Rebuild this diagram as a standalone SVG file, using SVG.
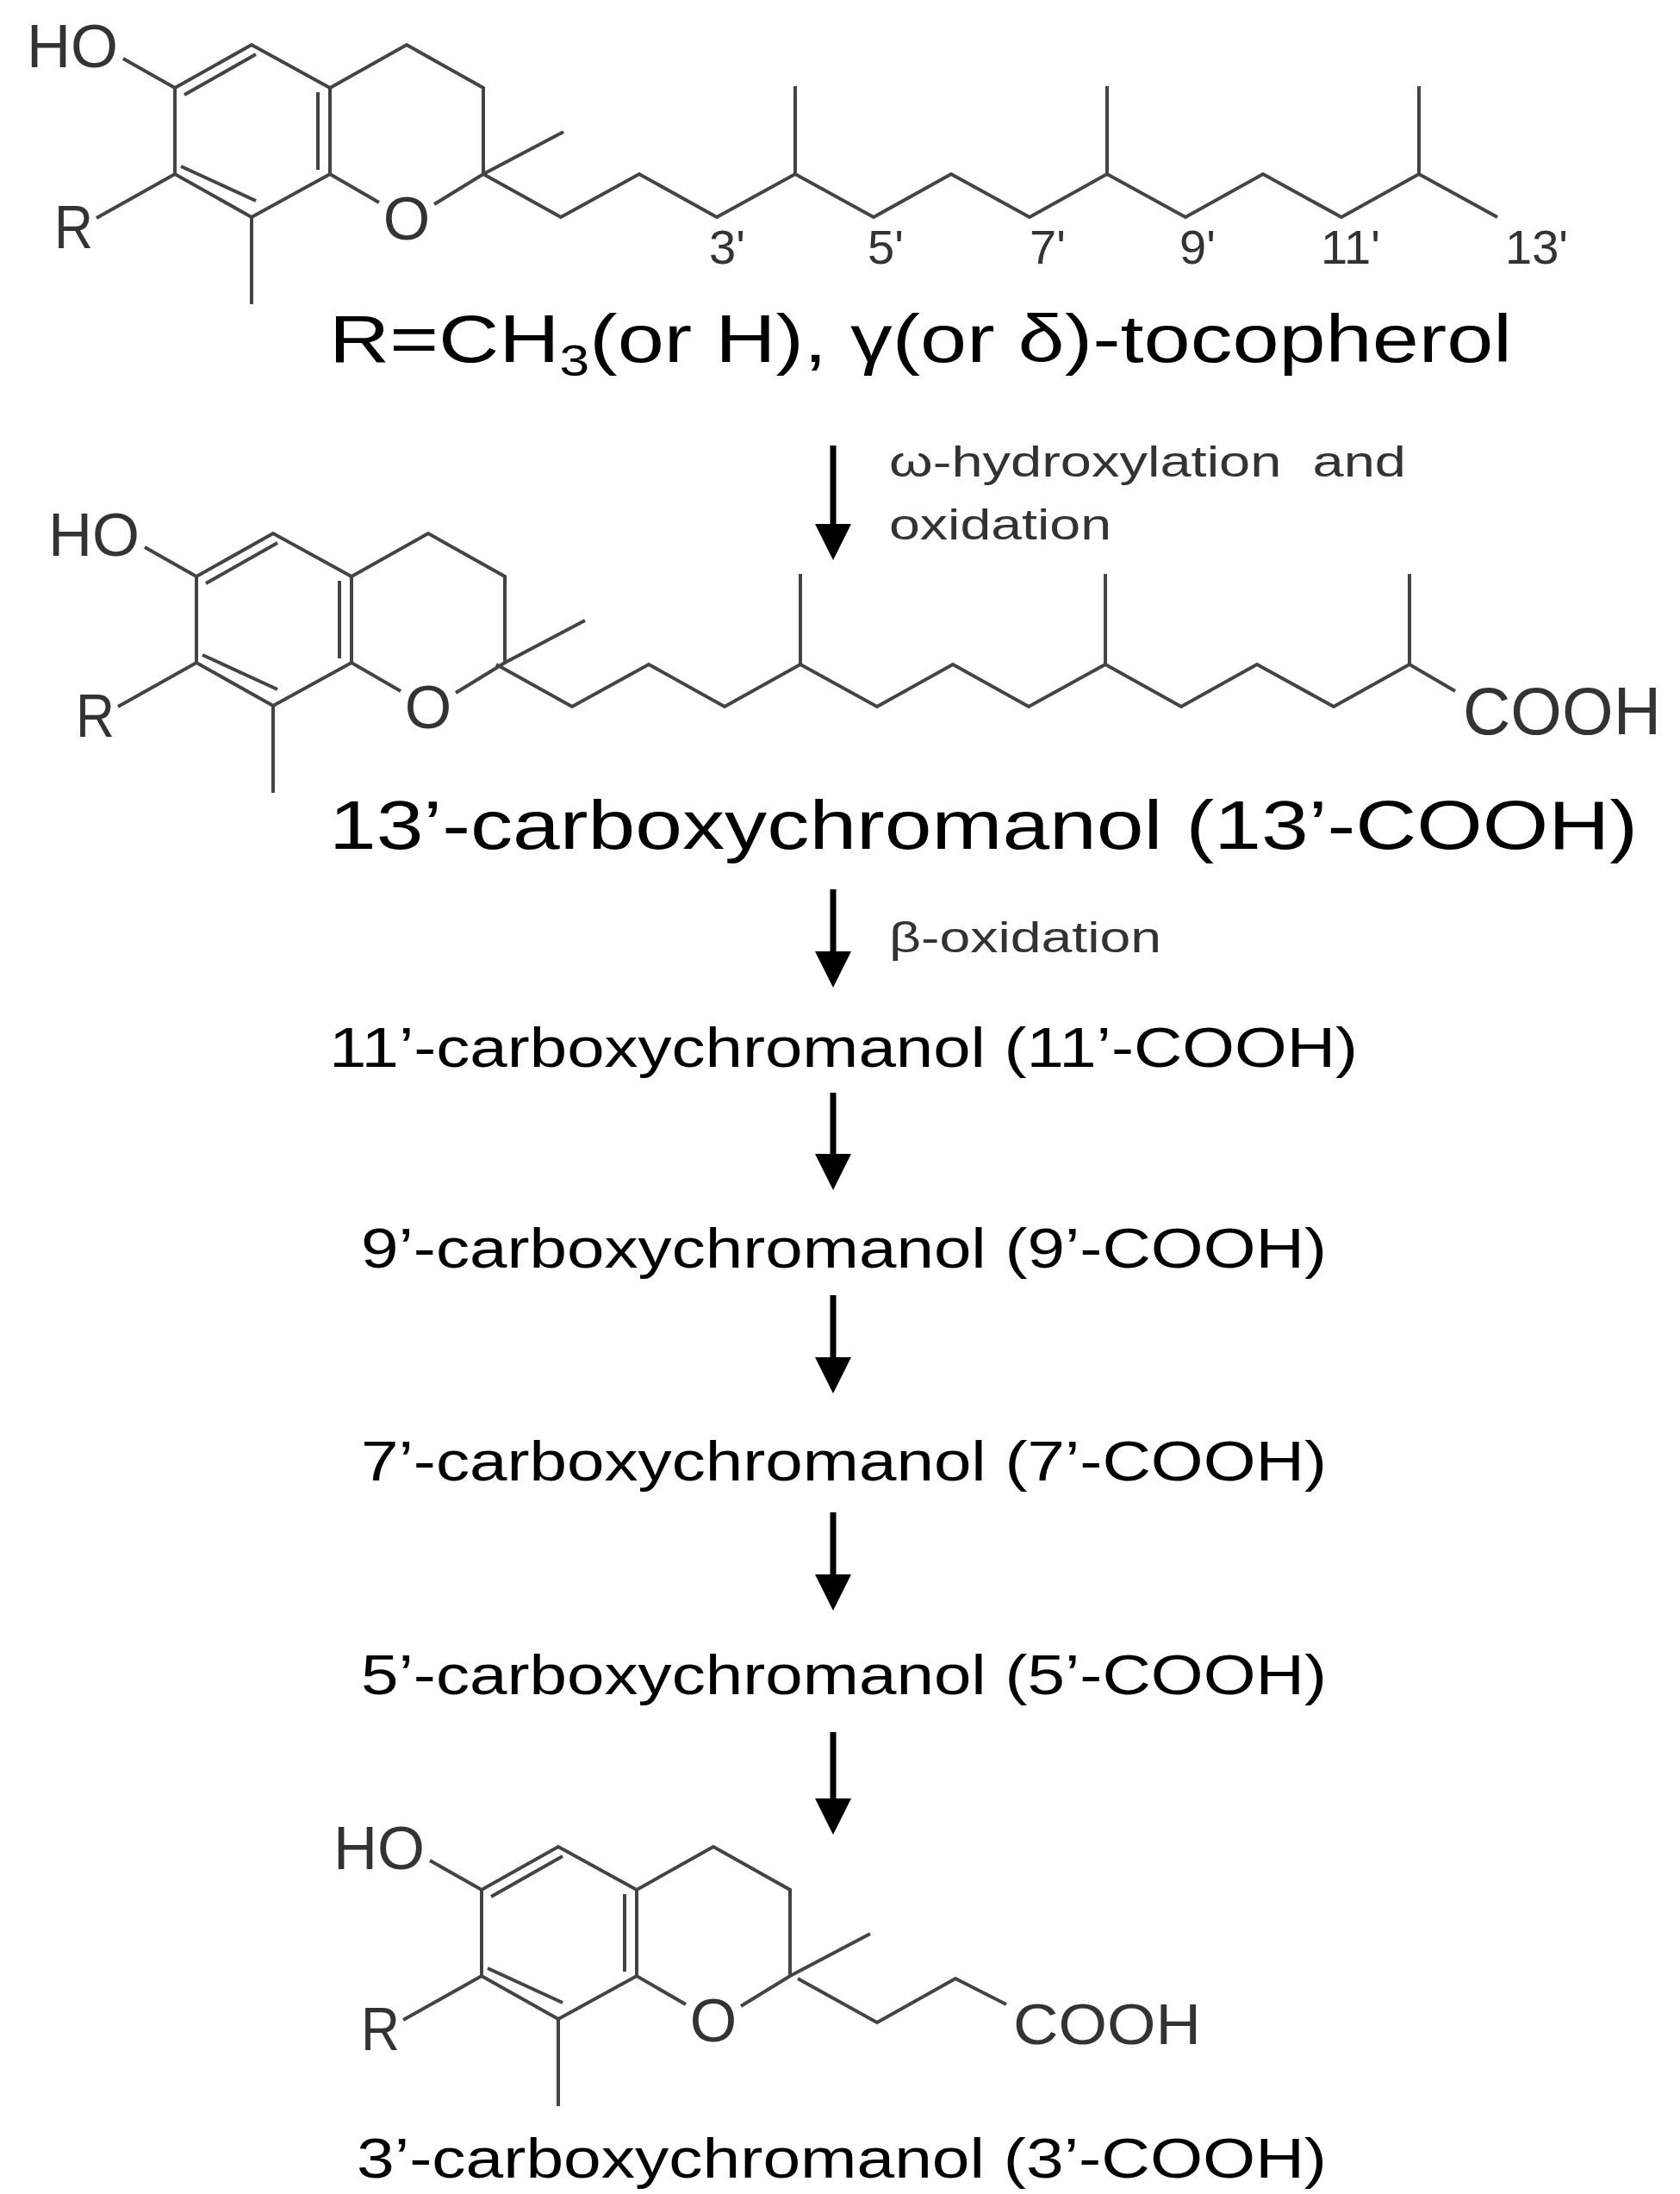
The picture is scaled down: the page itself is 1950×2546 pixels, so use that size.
<svg xmlns="http://www.w3.org/2000/svg" xmlns:xlink="http://www.w3.org/1999/xlink" width="1950" height="2546" viewBox="0 0 1950 2546">
<style>
.b{fill:none;stroke:#444;stroke-width:4;stroke-linejoin:miter}
.at{font-family:"Liberation Sans",Arial,sans-serif;fill:#333}
.t{font-family:"Liberation Sans",Arial,sans-serif;fill:#000}
.ar{stroke:#000;stroke-width:7;fill:none}
</style>
<defs>
<g id="ring">
<polyline class="b" points="-60,-34 0,0 89,-50 180,0 269,-50 358,0 358,100"/>
<line class="b" x1="0" y1="0" x2="0" y2="100"/>
<line class="b" x1="180" y1="0" x2="180" y2="100"/>
<polyline class="b" points="-91,151 0,100 89,150 180,100 237,133"/>
<line class="b" x1="89" y1="150" x2="89" y2="251"/>
<polyline class="b" points="301,135 358,100 451,51"/>
<line class="b" x1="11" y1="8" x2="94" y2="-39"/>
<line class="b" x1="166" y1="5" x2="166" y2="95"/>
<line class="b" x1="7" y1="91" x2="94" y2="131"/>
<text class="at" x="-172" y="-24" font-size="70" textLength="106" lengthAdjust="spacingAndGlyphs">HO</text>
<text class="at" x="-140" y="186" font-size="70" textLength="45" lengthAdjust="spacingAndGlyphs">R</text>
<text class="at" x="269" y="176" font-size="70" text-anchor="middle">O</text>
</g>
<marker id="ah" markerWidth="6" markerHeight="6" refX="5" refY="3" orient="auto" markerUnits="strokeWidth">
<path d="M0,0 L6,3 L0,6 z" fill="#000"/>
</marker>
</defs>

<g id="tocopherol">
<use xlink:href="#ring" transform="translate(203,102)"/>
<polyline class="b" points="561,202 651,252 742,202 832,252 923,202 1014,252 1104,202 1195,252 1285,202 1376,252 1466,202 1557,252 1647,202 1738,252"/>
<line class="b" x1="923" y1="202" x2="923" y2="100"/>
<line class="b" x1="1285" y1="202" x2="1285" y2="100"/>
<line class="b" x1="1647" y1="202" x2="1647" y2="100"/>
<text class="at" x="823" y="306" font-size="56">3'</text>
<text class="at" x="1007" y="306" font-size="56">5'</text>
<text class="at" x="1195" y="306" font-size="56">7'</text>
<text class="at" x="1369" y="306" font-size="56">9'</text>
<text class="at" x="1533" y="306" font-size="56">11'</text>
<text class="at" x="1747" y="306" font-size="56">13'</text>
<text class="t" x="382" y="420" font-size="78" textLength="1373" lengthAdjust="spacingAndGlyphs">R=CH<tspan font-size="50" dy="16">3</tspan><tspan dy="-16">(or H), γ(or δ)-tocopherol</tspan></text>
</g>

<g id="cooh13">
<use xlink:href="#ring" transform="translate(228,669)"/>
<polyline class="b" points="576,771 664,820 753,771 841,820 929,771 1018,820 1106,771 1194,820 1283,771 1371,820 1459,771 1548,820 1636,771 1689,802"/>
<line class="b" x1="929" y1="771" x2="929" y2="666"/>
<line class="b" x1="1283" y1="771" x2="1283" y2="666"/>
<line class="b" x1="1636" y1="771" x2="1636" y2="666"/>
<text class="at" x="1698" y="852" font-size="78" textLength="230" lengthAdjust="spacingAndGlyphs">COOH</text>
<text class="t" x="382" y="985" font-size="80" textLength="1519" lengthAdjust="spacingAndGlyphs">13’-carboxychromanol (13’-COOH)</text>
</g>

<g id="cooh11"><text class="t" x="382" y="1238" font-size="64" textLength="1194" lengthAdjust="spacingAndGlyphs">11’-carboxychromanol (11’-COOH)</text></g>
<g id="cooh9"><text class="t" x="419" y="1471" font-size="64" textLength="1121" lengthAdjust="spacingAndGlyphs">9’-carboxychromanol (9’-COOH)</text></g>
<g id="cooh7"><text class="t" x="419" y="1718" font-size="64" textLength="1121" lengthAdjust="spacingAndGlyphs">7’-carboxychromanol (7’-COOH)</text></g>
<g id="cooh5"><text class="t" x="419" y="1966" font-size="64" textLength="1121" lengthAdjust="spacingAndGlyphs">5’-carboxychromanol (5’-COOH)</text></g>

<g id="cooh3">
<use xlink:href="#ring" transform="translate(559,2193)"/>
<polyline class="b" points="926,2296 1018,2347 1109,2296 1168,2326"/>
<text class="at" x="1176" y="2372" font-size="66" textLength="218" lengthAdjust="spacingAndGlyphs">COOH</text>
<text class="t" x="414" y="2527" font-size="64" textLength="1126" lengthAdjust="spacingAndGlyphs">3’-carboxychromanol (3’-COOH)</text>
</g>

<g id="connectors">
<line class="ar" x1="967" y1="517" x2="967" y2="643" marker-end="url(#ah)"/>
<line class="ar" x1="967" y1="1032" x2="967" y2="1139" marker-end="url(#ah)"/>
<line class="ar" x1="967" y1="1268" x2="967" y2="1374" marker-end="url(#ah)"/>
<line class="ar" x1="967" y1="1503" x2="967" y2="1610" marker-end="url(#ah)"/>
<line class="ar" x1="967" y1="1755" x2="967" y2="1862" marker-end="url(#ah)"/>
<line class="ar" x1="967" y1="2010" x2="967" y2="2122" marker-end="url(#ah)"/>
<text class="at" x="1032" y="553" font-size="50" textLength="600" lengthAdjust="spacingAndGlyphs" xml:space="preserve">ω-hydroxylation  and</text>
<text class="at" x="1032" y="626" font-size="50" textLength="258" lengthAdjust="spacingAndGlyphs">oxidation</text>
<text class="at" x="1032" y="1105" font-size="50" textLength="316" lengthAdjust="spacingAndGlyphs">β-oxidation</text>
</g>
</svg>
